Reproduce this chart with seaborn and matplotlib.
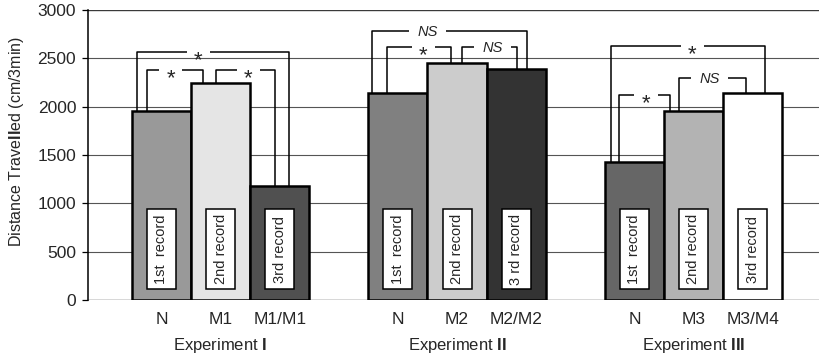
import matplotlib
matplotlib.use("Agg")
import matplotlib.pyplot as plt
import seaborn as sns
import pandas as pd
from matplotlib.patches import Rectangle
from matplotlib.transforms import blended_transform_factory

# ---- data -------------------------------------------------------------
experiments = ["I", "II", "III"]
conditions = [["N", "M1", "M1/M1"],
              ["N", "M2", "M2/M2"],
              ["N", "M3", "M3/M4"]]
distance = [[1960, 2240, 1180],
            [2140, 2450, 2390],
            [1430, 1960, 2145]]
record_labels = [["1st  record", "2nd record", "3rd record"],
                 ["1st  record", "2nd record", "3 rd record"],
                 ["1st  record", "2nd record", "3rd record"]]
# pairwise comparisons per experiment: (bar a, bar b, result)
comparisons = [[(0, 1, "*"), (1, 2, "*"), (0, 2, "*")],
               [(0, 2, "NS"), (0, 1, "*"), (1, 2, "NS")],
               [(0, 2, "*"), (0, 1, "*"), (1, 2, "NS")]]
y_ticks = [0, 500, 1000, 1500, 2000, 2500, 3000]

# ---- styling ----------------------------------------------------------
bar_colors = [["#999999", "#e5e5e5", "#505050"],
              ["#808080", "#cccccc", "#333333"],
              ["#666666", "#b3b3b3", "#ffffff"]]
# bracket geometry: (bracket height, left leg offset, right leg offset, label position)
bracket_layout = [[(2380, -0.24, -0.30, 0.42), (2380, -0.08, -0.08, 0.55), (2565, -0.42, 0.16, 0.405)],
                  [(2783, -0.44, 0.19, 0.357), (2617, -0.19, -0.10, 0.57), (2617, 0.08, 0.02, 0.55)],
                  [(2628, -0.40, 0.21, 0.53), (2121, -0.26, -0.40, 0.53), (2297, -0.25, -0.11, 0.46)]]

sns.set_style("white")
plt.rcParams["font.family"] = ["Liberation Sans", "DejaVu Sans"]
plt.rcParams["mathtext.fontset"] = "custom"
plt.rcParams["mathtext.rm"] = "Liberation Sans"
plt.rcParams["mathtext.bf"] = "Liberation Sans:bold"
plt.rcParams["mathtext.it"] = "Liberation Sans:italic"

# ---- table for seaborn --------------------------------------------------
rows, order, palette, positions = [], [], {}, {}
for g, exp in enumerate(experiments):
    if g > 0:
        order.append(" " * g)  # empty slot between experiments
    for b, cond in enumerate(conditions[g]):
        key = f"{exp}:{cond}"
        rows.append({"key": key, "distance": distance[g][b]})
        palette[key] = bar_colors[g][b]
        order.append(key)
        positions[(g, b)] = len(order) - 1
df = pd.DataFrame(rows)

fig = plt.figure(figsize=(8.2, 3.57), dpi=100)
ax = fig.add_axes([88 / 820, 1 - 300 / 357, 732 / 820, 290 / 357])

sns.barplot(data=df, x="key", y="distance", hue="key", order=order,
            palette=palette, width=1.0, edgecolor="black", linewidth=1.8,
            saturation=1.0, legend=False, ax=ax, zorder=2)

ax.set_xlim(-1.243, 11.14)
ax.set_ylim(0, 3000)

# horizontal rules
for t in y_ticks:
    ax.axhline(t, color="#3a3a3a" if t in (0, 3000) else "#555555",
               lw=1.0 if t in (0, 3000) else 0.8, zorder=0.5)

for s in ["top", "right", "bottom"]:
    ax.spines[s].set_visible(False)
ax.spines["left"].set_color("black")
ax.spines["left"].set_linewidth(1.1)

ax.set_yticks(y_ticks)
ax.tick_params(axis="y", length=4.5, width=0.9, color="black", pad=4,
               labelsize=12.5, left=True)
ax.set_yticklabels([str(t) for t in y_ticks])

# category labels under bars
xt = [positions[(g, b)] for g in range(3) for b in range(3)]
ax.set_xticks(xt)
ax.set_xticklabels([c for grp in conditions for c in grp], fontsize=12.5)
ax.tick_params(axis="x", length=0, pad=9)
ax.set_xlabel("")

trans = blended_transform_factory(ax.transData, ax.transAxes)
for g, exp in enumerate(experiments):
    center = positions[(g, 1)]
    ax.text(center, -0.158, f"Experiment $\\mathbf{{{exp}}}$", transform=trans,
            ha="center", va="center", fontsize=12)

ax.set_ylabel(r"Distance Trave$\mathbf{ll}$ed (cm/3min)", fontsize=11.5)
ax.yaxis.set_label_coords(-0.098, 0.548)
ax.yaxis.label.set_va("center")

# record boxes inside bars
for g in range(3):
    for b in range(3):
        x = positions[(g, b)]
        ax.add_patch(Rectangle((x - 0.245, 115), 0.49, 825, facecolor="white",
                               edgecolor="black", lw=1.1, zorder=3))
        ax.text(x, 527, record_labels[g][b], rotation=90, ha="center",
                va="center", fontsize=10.5, zorder=4)

# significance brackets
for g in range(3):
    for (a, b, lab), (h, lo, ro, f) in zip(comparisons[g], bracket_layout[g]):
        xa = positions[(g, a)] + lo
        xb = positions[(g, b)] + ro
        ya = distance[g][a]
        yb = distance[g][b]
        xm = xa + f * (xb - xa)
        gap = 0.2 if lab == "*" else 0.31
        kw = dict(color="black", lw=1.1, zorder=5, solid_capstyle="butt")
        ax.plot([xa, xa, xm - gap], [ya, h, h], **kw)
        ax.plot([xm + gap, xb, xb], [h, h, yb], **kw)
        if lab == "*":
            ax.annotate(lab, xy=(xm, h), xytext=(0, -10.5), textcoords="offset points",
                        ha="center", va="baseline", fontsize=16, zorder=6)
        else:
            ax.annotate(lab, xy=(xm, h), xytext=(0, -3.7), textcoords="offset points",
                        ha="center", va="baseline", fontsize=10.5,
                        style="italic", zorder=6)

fig.savefig("out.png", dpi=100)
